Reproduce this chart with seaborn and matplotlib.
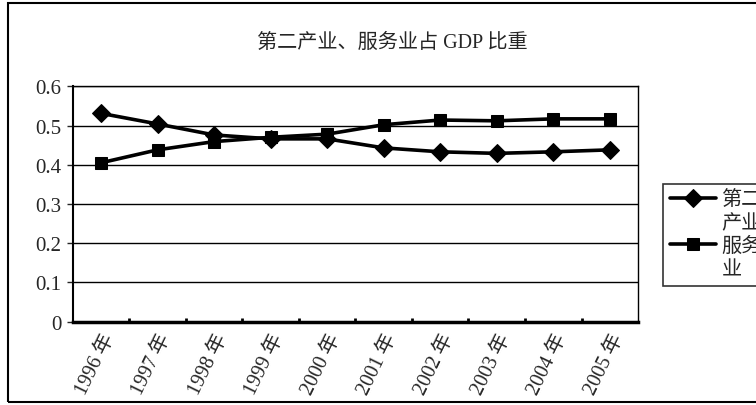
import pandas as pd
import numpy as np
import seaborn as sns
import matplotlib.pyplot as plt
from matplotlib.lines import Line2D
from matplotlib.patches import Rectangle
from matplotlib.ticker import FuncFormatter

# Values
years = ["1996 年", "1997 年", "1998 年", "1999 年", "2000 年",
         "2001 年", "2002 年", "2003 年", "2004 年", "2005 年"]
industry2 = [0.531, 0.504, 0.476, 0.466, 0.466, 0.443, 0.433, 0.429, 0.433, 0.438]
services = [0.405, 0.438, 0.459, 0.470, 0.478, 0.502, 0.514, 0.512, 0.517, 0.517]
series_names = ["第二产业", "服务业"]
# legend labels wrap over two lines in the reference
legend_lines = [["第二", "产业"], ["服务", "业"]]
title = "第二产业、服务业占 GDP 比重"

df = pd.DataFrame({
    "pos": list(range(len(years))) * 2,
    "value": industry2 + services,
    "series": [series_names[0]] * len(years) + [series_names[1]] * len(years),
})

sns.set_style("white")
plt.rcParams["font.family"] = ["Liberation Serif", "Noto Sans CJK SC"]

fig = plt.figure(figsize=(7.56, 4.06), dpi=100)
ax = fig.add_axes([0.0962, 0.2052, 0.7478, 0.5798])

sns.lineplot(data=df, x="pos", y="value", hue="series", style="series",
             markers=["D", "s"], dashes=False, palette=["black", "black"],
             markersize=9, linewidth=2.6, markeredgecolor="black",
             legend=False, ax=ax)

ax.set_xlim(-0.5, len(years) - 0.5)
ax.set_ylim(0, 0.6)
ax.set_yticks(np.arange(0, 0.61, 0.1))
ax.yaxis.set_major_formatter(FuncFormatter(lambda v, p: f"{v:g}"))
ax.yaxis.grid(True, color="black", linewidth=1)
ax.set_xlabel("")
ax.set_ylabel("")

ax.set_xticks(range(len(years)))
ax.set_xticklabels(years, rotation=64, ha="right", rotation_mode="anchor",
                   fontsize=14.5)
ax.set_xticks(np.arange(0.5, len(years) - 0.5, 1), minor=True)
ax.tick_params(axis="x", which="major", length=0, pad=6)
ax.tick_params(axis="x", which="minor", direction="in", length=3,
               width=2, color="black", bottom=True)
ax.tick_params(axis="y", length=4, width=1, left=True, labelsize=15, pad=4)

for side in ["top", "right"]:
    ax.spines[side].set_color("black")
    ax.spines[side].set_linewidth(1)
ax.spines["left"].set_color("black")
ax.spines["left"].set_linewidth(1.5)
ax.spines["bottom"].set_color("black")
ax.spines["bottom"].set_linewidth(2.5)

fig.text(0.519, 0.892, title, ha="center", va="center", fontsize=14.5)

# Legend outside on the right, partly cut off like the reference;
# the marker sits on the first line of each wrapped label
blank = Line2D([], [], linestyle="none", marker="none")
handles, labels = [], []
for line, parts in zip(ax.lines[:2], legend_lines):
    handles += [line, blank]
    labels += parts
leg = fig.legend(handles, labels, loc="upper left",
                 bbox_to_anchor=(0.877, 0.545), frameon=True, fancybox=False,
                 fontsize=14.5, handlelength=2.3, handletextpad=0.25,
                 labelspacing=0.2, borderpad=0.35, borderaxespad=0)
leg.get_frame().set_edgecolor("black")
leg.get_frame().set_linewidth(1.2)

# Outer chart border
fig.patches.append(Rectangle((0.0106, 0.007), 1.0, 0.983, transform=fig.transFigure,
                             fill=False, edgecolor="black", linewidth=1.5))

fig.savefig("out.png", dpi=100)
